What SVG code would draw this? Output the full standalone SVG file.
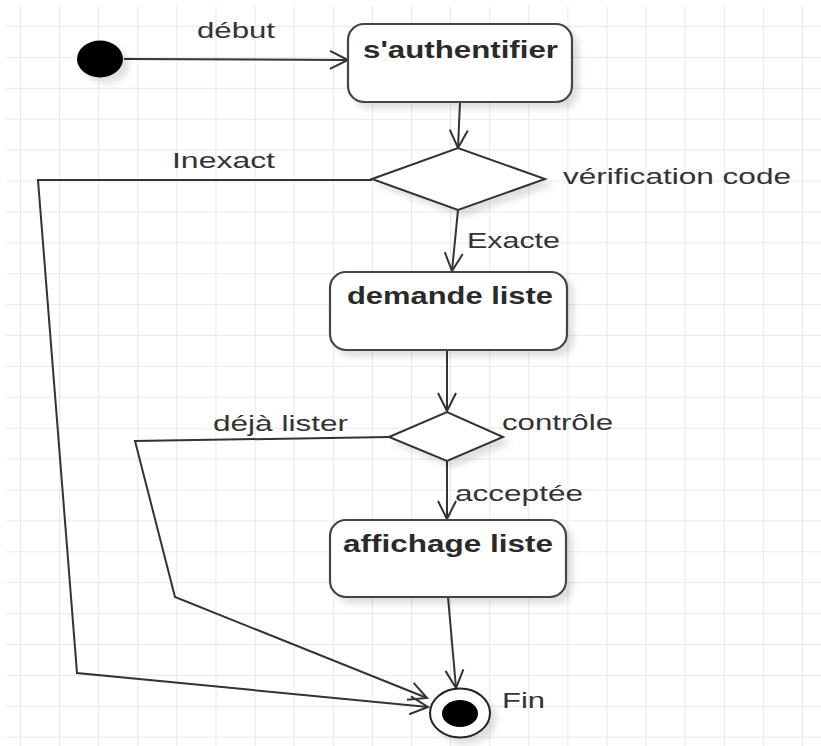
<svg xmlns="http://www.w3.org/2000/svg" width="821" height="746" viewBox="0 0 821 746">
  <defs>
    <pattern id="grid" x="20" y="26" width="39.1" height="30.9" patternUnits="userSpaceOnUse">
      <path d="M0,0 V30.9 M0,0 H39.1" fill="none" stroke="#e2e2e2" stroke-width="1.6"/>
    </pattern>
    <filter id="shadow" x="-20%" y="-20%" width="150%" height="160%">
      <feDropShadow dx="6" dy="6" stdDeviation="3" flood-color="#000" flood-opacity="0.12"/>
    </filter>
    <marker id="open" markerWidth="22" markerHeight="22" refX="19" refY="10" orient="auto" markerUnits="userSpaceOnUse" overflow="visible">
      <path d="M1,1 L19,10 L1,19" fill="none" stroke="#333" stroke-width="2"/>
    </marker>
  </defs>
  <style>
    .lbl { font-family: "Liberation Sans", Arial, sans-serif; font-size: 22px; fill: #333; }
    .act { font-family: "Liberation Sans", Arial, sans-serif; font-size: 23px; font-weight: bold; fill: #2a2a2a; }
    .box { fill: #fff; stroke: #444; stroke-width: 2.2; filter: url(#shadow); }
    .dec { fill: #fff; stroke: #333; stroke-width: 2; filter: url(#shadow); }
    .edge { fill: none; stroke: #333; stroke-width: 2; marker-end: url(#open); }
  </style>

  <!-- background grid -->
  <rect width="821" height="746" fill="#fff"/>
  <rect x="6" y="6" width="815" height="740" fill="url(#grid)"/>

  <!-- transitions -->
  <g id="connectors">
    <path class="edge" d="M124,59 L348,60"/>
    <path class="edge" d="M460,102 L458,148"/>
    <path class="edge" d="M372,180 L38,180 L77,673 L428,707"/>
    <path class="edge" d="M458,210 L452,271"/>
    <path class="edge" d="M447,350 L447,411"/>
    <path class="edge" d="M389,437 L135,441 L175,597 L427,698"/>
    <path class="edge" d="M447,461 L447,519"/>
    <path class="edge" d="M448,597 L456,688"/>
    <text class="lbl" x="197" y="38" textLength="78" lengthAdjust="spacingAndGlyphs">début</text>
    <text class="lbl" x="172" y="168" textLength="103" lengthAdjust="spacingAndGlyphs">Inexact</text>
    <text class="lbl" x="467" y="248" textLength="93" lengthAdjust="spacingAndGlyphs">Exacte</text>
    <text class="lbl" x="213" y="431" textLength="135" lengthAdjust="spacingAndGlyphs">déjà lister</text>
    <text class="lbl" x="455" y="501" textLength="128" lengthAdjust="spacingAndGlyphs">acceptée</text>
  </g>

  <!-- initial state -->
  <g id="start">
    <ellipse cx="100" cy="59" rx="23" ry="18.5" fill="#000" filter="url(#shadow)"/>
  </g>

  <g id="authentifier">
    <rect class="box" x="348" y="24" width="224" height="78" rx="16"/>
    <text class="act" x="363" y="58" textLength="195" lengthAdjust="spacingAndGlyphs">s'authentifier</text>
  </g>

  <g id="verification">
    <polygon class="dec" points="372,179 458,148 545,179 458,210"/>
    <text class="lbl" x="563" y="184" textLength="228" lengthAdjust="spacingAndGlyphs">vérification code</text>
  </g>

  <g id="demande">
    <rect class="box" x="330" y="272" width="237" height="78" rx="16"/>
    <text class="act" x="347" y="304" textLength="206" lengthAdjust="spacingAndGlyphs">demande liste</text>
  </g>

  <g id="controle">
    <polygon class="dec" points="389,437 447,412 503,437 447,461"/>
    <text class="lbl" x="502" y="430" textLength="111" lengthAdjust="spacingAndGlyphs">contrôle</text>
  </g>

  <g id="affichage">
    <rect class="box" x="330" y="520" width="236" height="77" rx="16"/>
    <text class="act" x="343" y="552" textLength="210" lengthAdjust="spacingAndGlyphs">affichage liste</text>
  </g>

  <!-- final state -->
  <g id="fin">
    <ellipse cx="460" cy="713" rx="30" ry="24.5" fill="#fff" stroke="#222" stroke-width="2" filter="url(#shadow)"/>
    <ellipse cx="460" cy="713.5" rx="18" ry="13.5" fill="#000"/>
    <text class="lbl" x="502" y="708" textLength="43" lengthAdjust="spacingAndGlyphs">Fin</text>
  </g>
</svg>
